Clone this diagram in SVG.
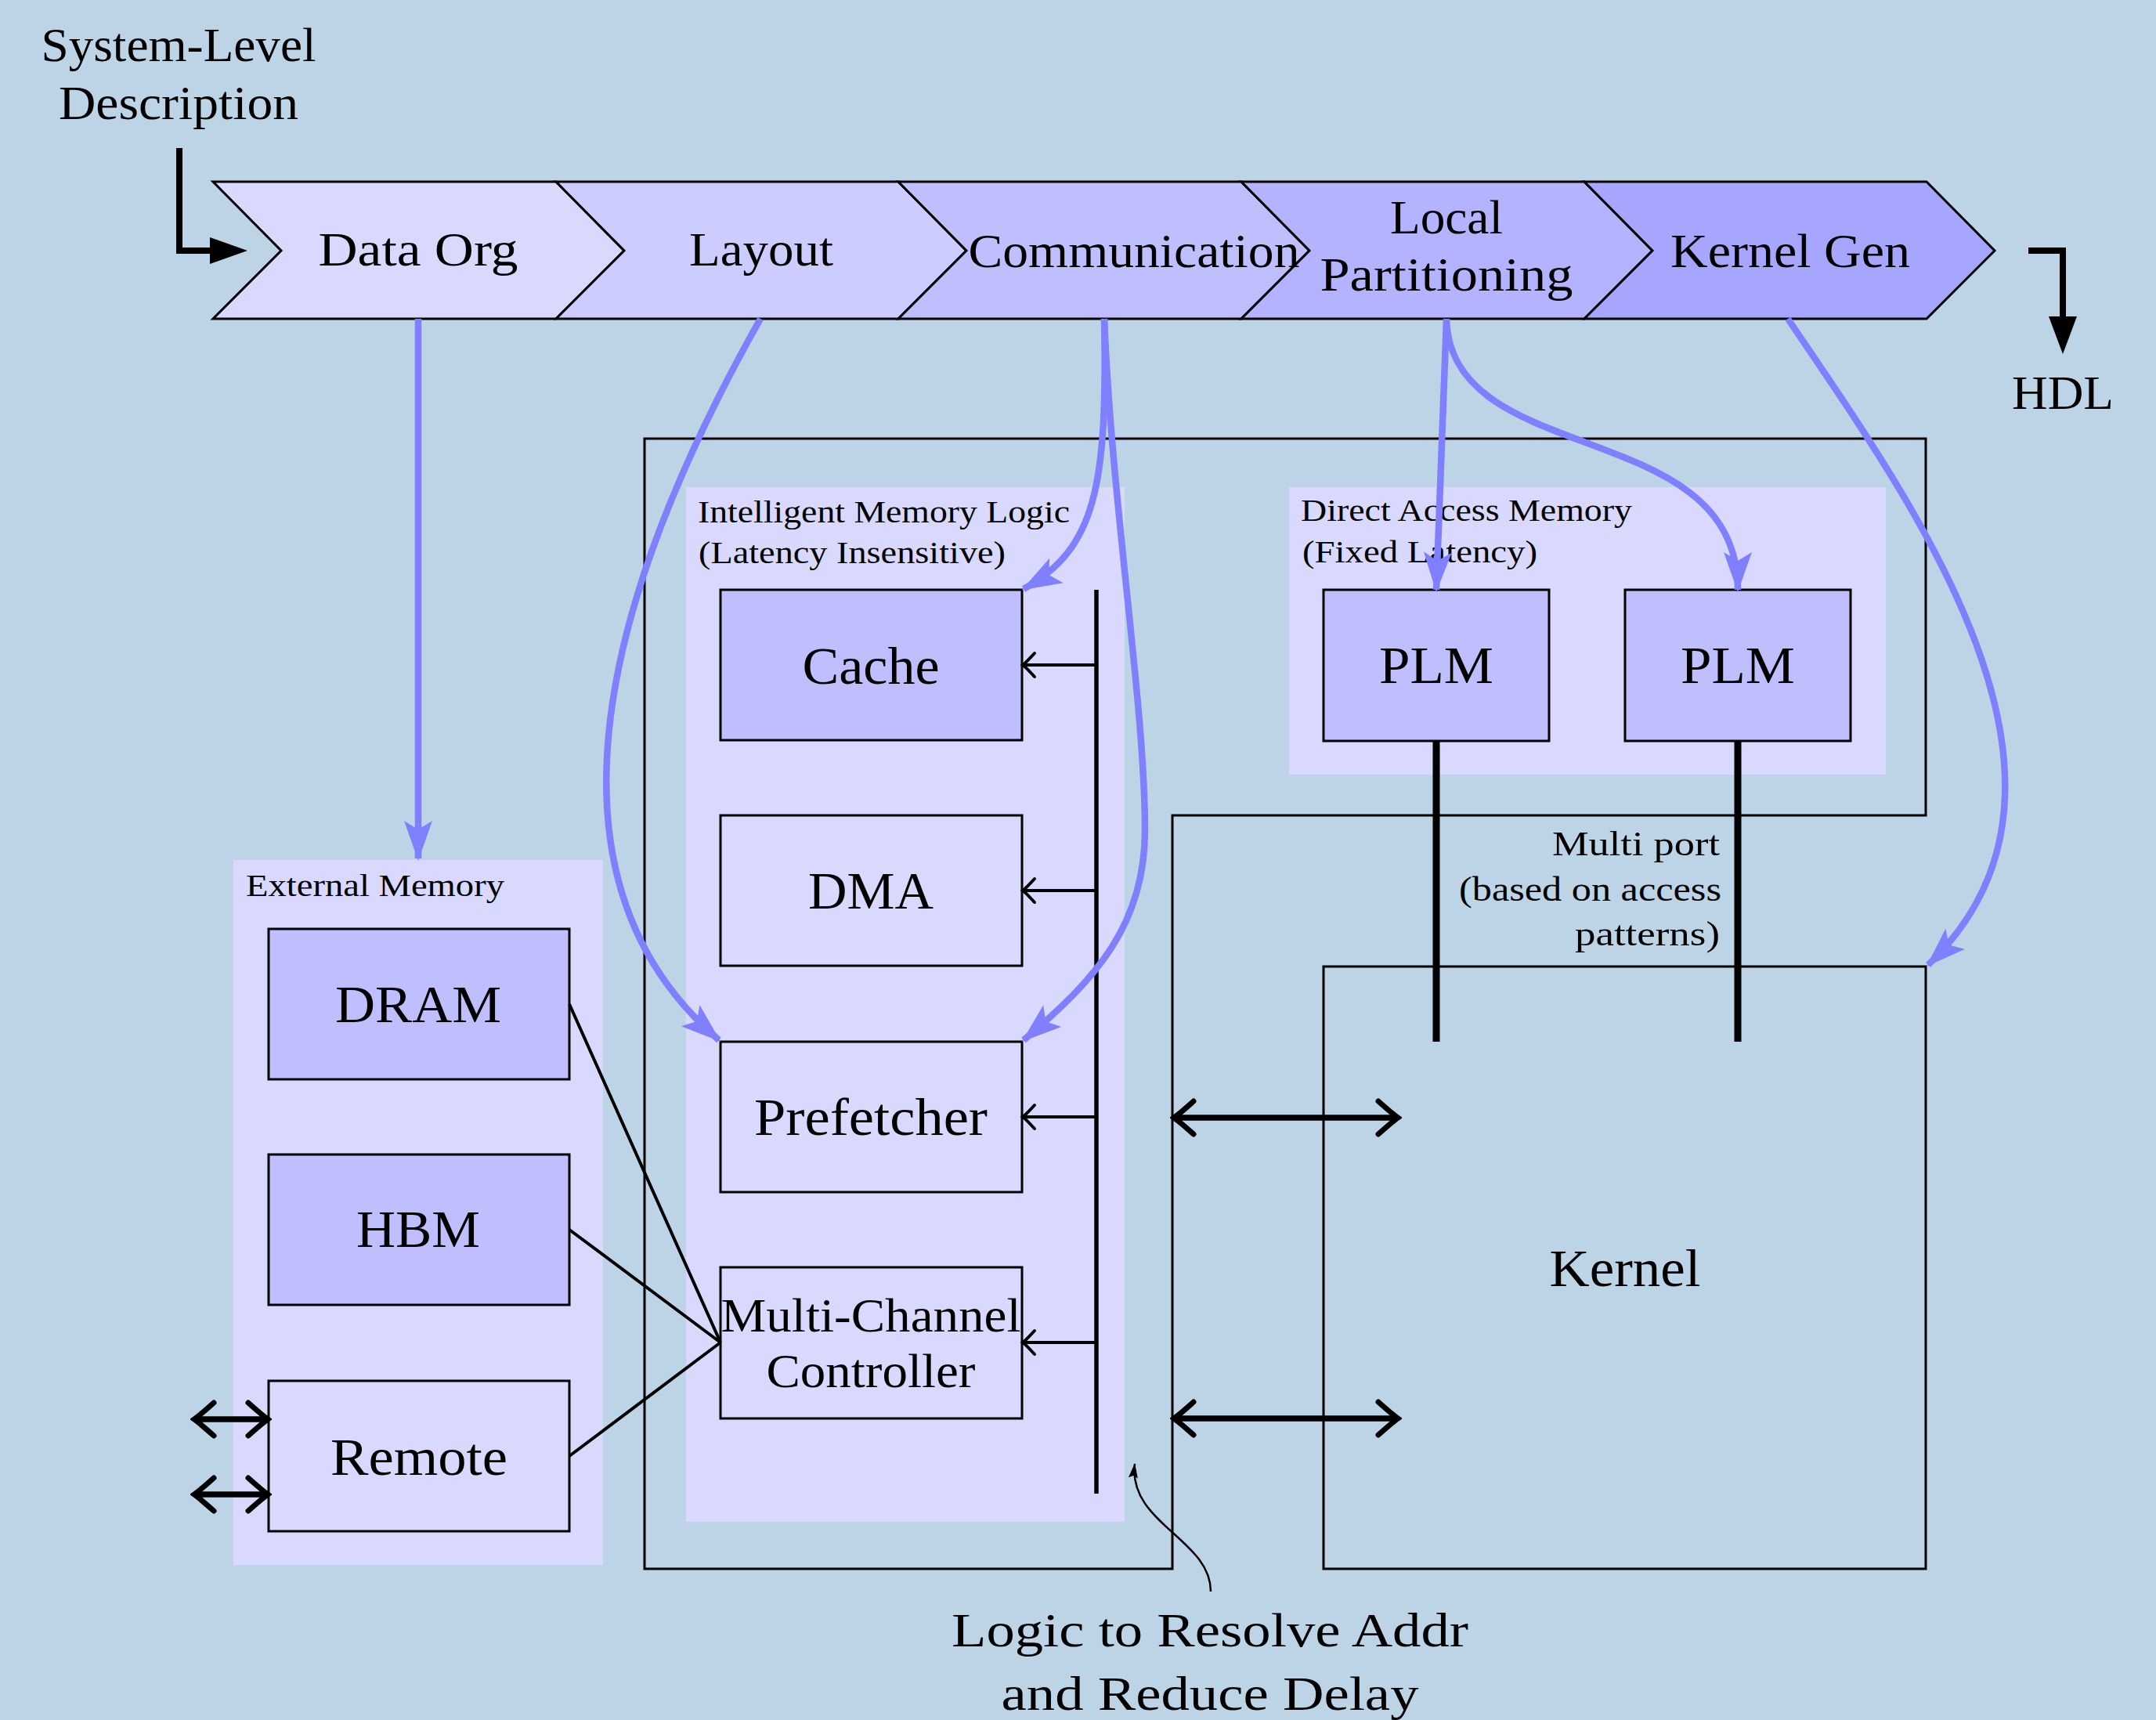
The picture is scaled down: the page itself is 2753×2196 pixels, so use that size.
<svg xmlns="http://www.w3.org/2000/svg" width="2753" height="2196" viewBox="0 0 2753 2196">
<style>
text{font-family:"Liberation Serif","DejaVu Serif",serif;fill:#000}
.t62{font-size:62px}
.t70{font-size:68px}
.t41{font-size:41px}
.t46{font-size:45px}
.box{stroke:#000;stroke-width:3}
.dark{fill:#bfbfff}
.light{fill:#d9d9ff}
.blue{fill:none;stroke:#8080ff;stroke-width:8.5;marker-end:url(#bh)}
.bus{fill:none;stroke:#000;stroke-width:4;marker-end:url(#open)}
.dbl{fill:none;stroke:#000;stroke-width:7.5;marker-end:url(#openBig);marker-start:url(#openBig)}
.thin{fill:none;stroke:#000;stroke-width:3}
.wire{fill:none;stroke:#000;stroke-width:4}
</style>
<defs>
<marker id="bh" viewBox="-52 -22 58 44" markerWidth="58" markerHeight="44" refX="0" refY="0" orient="auto" markerUnits="userSpaceOnUse"><path d="M3,0 L-48,-18 L-37,0 L-48,18 Z" fill="#8080ff"/></marker>
<marker id="open" viewBox="-20 -20 25 40" markerWidth="25" markerHeight="40" refX="0" refY="0" orient="auto" markerUnits="userSpaceOnUse"><path d="M-14,-15 Q-3,-3 1,0 Q-3,3 -14,15" fill="none" stroke="#000" stroke-width="4" stroke-linecap="round"/></marker>
<marker id="openBig" viewBox="-30 -26 36 52" markerWidth="36" markerHeight="52" refX="0" refY="0" orient="auto-start-reverse" markerUnits="userSpaceOnUse"><path d="M-24,-21 Q-6,-5 1,0 Q-6,5 -24,21" fill="none" stroke="#000" stroke-width="7" stroke-linecap="round"/></marker>
<marker id="sm" viewBox="-20 -10 22 20" markerWidth="22" markerHeight="20" refX="0" refY="0" orient="auto" markerUnits="userSpaceOnUse"><path d="M1,0 L-18,-6 L-15,0 L-18,6 Z" fill="#000"/></marker>
</defs>
<rect width="2753" height="2196" fill="#bcd4e6"/>

<g id="system-level">
<text class="t62" x="228" y="78" text-anchor="middle" textLength="351" lengthAdjust="spacingAndGlyphs">System-Level</text>
<text class="t62" x="228" y="152" text-anchor="middle" textLength="306" lengthAdjust="spacingAndGlyphs">Description</text>
</g>

<g id="pipeline">
<g id="stage-dataorg"><polygon points="272,232 710,232 797,320 710,407 272,407 359,320" fill="#d9d9ff" class="box"/><text class="t62" x="534" y="339" text-anchor="middle" textLength="255" lengthAdjust="spacingAndGlyphs">Data Org</text></g>
<g id="stage-layout"><polygon points="710,232 1147,232 1234,320 1147,407 710,407 797,320" fill="#ccccff" class="box"/><text class="t62" x="972" y="339" text-anchor="middle" textLength="184" lengthAdjust="spacingAndGlyphs">Layout</text></g>
<g id="stage-comm"><polygon points="1147,232 1585,232 1672,320 1585,407 1147,407 1234,320" fill="#bfbfff" class="box"/></g>
<g id="stage-local"><polygon points="1585,232 2023,232 2110,320 2023,407 1585,407 1672,320" fill="#b3b3ff" class="box"/><text class="t62" x="1847" y="298" text-anchor="middle" textLength="144" lengthAdjust="spacingAndGlyphs">Local</text><text class="t62" x="1847" y="371" text-anchor="middle" textLength="323" lengthAdjust="spacingAndGlyphs">Partitioning</text></g>
<g id="stage-kernelgen"><polygon points="2023,232 2460,232 2547,320 2460,407 2023,407 2110,320" fill="#a6a6ff" class="box"/><text class="t62" x="2286" y="341" text-anchor="middle" textLength="306" lengthAdjust="spacingAndGlyphs">Kernel Gen</text></g>
<text class="t62" x="1448" y="341" text-anchor="middle" textLength="423" lengthAdjust="spacingAndGlyphs">Communication</text>
</g>

<g id="hdl"><text class="t62" x="2634" y="522" text-anchor="middle" textLength="130" lengthAdjust="spacingAndGlyphs">HDL</text></g>

<g id="outer-frame"><path d="M823,560 H2459 V1041 H1497 V2003 H823 Z" class="thin"/></g>

<g id="external-memory">
<rect x="298" y="1098" width="472" height="900" fill="#d9d9ff"/>
<text class="t41" x="314" y="1144" textLength="330" lengthAdjust="spacingAndGlyphs">External Memory</text>
</g>
<g id="dram"><rect x="343" y="1186" width="384" height="192" class="box dark"/><text class="t70" x="534" y="1305" text-anchor="middle" textLength="212" lengthAdjust="spacingAndGlyphs">DRAM</text></g>
<g id="hbm"><rect x="343" y="1474" width="384" height="192" class="box dark"/><text class="t70" x="534" y="1592" text-anchor="middle" textLength="158" lengthAdjust="spacingAndGlyphs">HBM</text></g>
<g id="remote"><rect x="343" y="1763" width="384" height="192" class="box light"/><text class="t70" x="535" y="1883" text-anchor="middle" textLength="226" lengthAdjust="spacingAndGlyphs">Remote</text></g>

<g id="intelligent-memory-logic">
<rect x="876" y="622" width="560" height="1321" fill="#d9d9ff"/>
<text class="t41" x="891" y="667" textLength="475" lengthAdjust="spacingAndGlyphs">Intelligent Memory Logic</text>
<text class="t41" x="892" y="719" textLength="392" lengthAdjust="spacingAndGlyphs">(Latency Insensitive)</text>
</g>
<g id="cache"><rect x="920" y="753" width="385" height="192" class="box dark"/><text class="t70" x="1112" y="873" text-anchor="middle" textLength="175" lengthAdjust="spacingAndGlyphs">Cache</text></g>
<g id="dma"><rect x="920" y="1041" width="385" height="192" class="box light"/><text class="t70" x="1112" y="1160" text-anchor="middle" textLength="160" lengthAdjust="spacingAndGlyphs">DMA</text></g>
<g id="prefetcher"><rect x="920" y="1330" width="385" height="192" class="box light"/><text class="t70" x="1112" y="1449" text-anchor="middle" textLength="298" lengthAdjust="spacingAndGlyphs">Prefetcher</text></g>
<g id="mcc"><rect x="920" y="1618" width="385" height="193" class="box light"/><text class="t62" x="1112" y="1700" text-anchor="middle" textLength="383" lengthAdjust="spacingAndGlyphs">Multi-Channel</text><text class="t62" x="1112" y="1771" text-anchor="middle" textLength="267" lengthAdjust="spacingAndGlyphs">Controller</text></g>

<g id="direct-access-memory">
<rect x="1646" y="622" width="762" height="367" fill="#d9d9ff"/>
<text class="t41" x="1661" y="665" textLength="423" lengthAdjust="spacingAndGlyphs">Direct Access Memory</text>
<text class="t41" x="1663" y="718" textLength="300" lengthAdjust="spacingAndGlyphs">(Fixed Latency)</text>
</g>
<g id="plm1"><rect x="1690" y="753" width="288" height="193" class="box dark"/><text class="t70" x="1834" y="872" text-anchor="middle" textLength="146" lengthAdjust="spacingAndGlyphs">PLM</text></g>
<g id="plm2"><rect x="2075" y="753" width="288" height="193" class="box dark"/><text class="t70" x="2219" y="872" text-anchor="middle" textLength="146" lengthAdjust="spacingAndGlyphs">PLM</text></g>

<g id="multiport">
<text class="t46" x="2196" y="1092" text-anchor="end" textLength="214" lengthAdjust="spacingAndGlyphs">Multi port</text>
<text class="t46" x="2198" y="1150" text-anchor="end" textLength="335" lengthAdjust="spacingAndGlyphs">(based on access</text>
<text class="t46" x="2196" y="1207" text-anchor="end" textLength="185" lengthAdjust="spacingAndGlyphs">patterns)</text>
</g>

<g id="kernel"><rect x="1690" y="1234" width="769" height="769" class="thin"/><text class="t70" x="2075" y="1642" text-anchor="middle" textLength="193" lengthAdjust="spacingAndGlyphs">Kernel</text></g>

<g id="logic-label">
<text class="t62" x="1545" y="2102" text-anchor="middle" textLength="660" lengthAdjust="spacingAndGlyphs">Logic to Resolve Addr</text>
<text class="t62" x="1545" y="2183" text-anchor="middle" textLength="533" lengthAdjust="spacingAndGlyphs">and Reduce Delay</text>
</g>

<g id="connectors">
<path d="M229,189 V320 H272" fill="none" stroke="#000" stroke-width="8" stroke-linejoin="miter"/>
<polygon points="268,303 316,320 268,337" fill="#000"/>
<path d="M2590,320 H2634 V410" fill="none" stroke="#000" stroke-width="8" stroke-linejoin="miter"/>
<polygon points="2616,404 2634,452 2652,404" fill="#000"/>

<line x1="1400" y1="753" x2="1400" y2="1907" stroke="#000" stroke-width="5.5"/>
<path class="bus" d="M1400,849 H1307"/>
<path class="bus" d="M1400,1137 H1307"/>
<path class="bus" d="M1400,1426 H1307"/>
<path class="bus" d="M1400,1714 H1307"/>

<path class="wire" d="M727,1282 L920,1714 M727,1570 L920,1714 M727,1859 L920,1714"/>

<path class="dbl" d="M249,1812 H341"/>
<path class="dbl" d="M249,1908 H341"/>

<path class="dbl" d="M1500,1427 H1784"/>
<path class="dbl" d="M1500,1811 H1784"/>

<line x1="1834" y1="946" x2="1834" y2="1330" stroke="#000" stroke-width="9"/>
<line x1="2219" y1="946" x2="2219" y2="1330" stroke="#000" stroke-width="9"/>

<path d="M1546,2032 C1546,1965 1440,1945 1449,1869" fill="none" stroke="#000" stroke-width="2.5" marker-end="url(#sm)"/>

<path class="blue" d="M534,407 V1096"/>
<path class="blue" d="M971,407 C755,790 688,1130 918,1328"/>
<path class="blue" d="M1410,407 C1414,620 1400,700 1307,752"/>
<path class="blue" d="M1410,407 C1420,650 1462,900 1462,1060 C1462,1180 1400,1250 1307,1328"/>
<path class="blue" d="M1847,407 L1834,753"/>
<path class="blue" d="M1847,407 C1852,600 2219,530 2219,753"/>
<path class="blue" d="M2283,407 C2440,640 2705,1000 2462,1232"/>
</g>
</svg>
